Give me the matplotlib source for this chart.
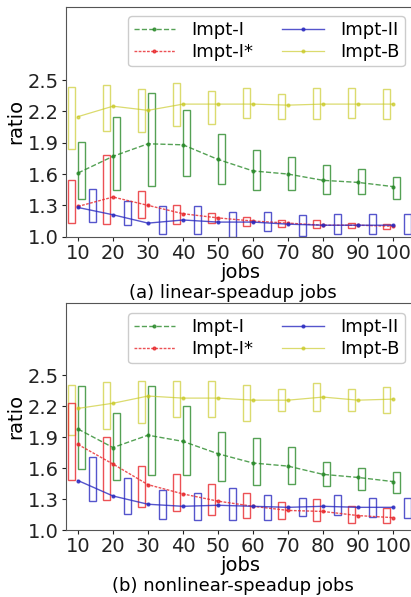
import matplotlib
matplotlib.use("Agg")
import matplotlib.pyplot as plt
import numpy as np

jobs = [10, 20, 30, 40, 50, 60, 70, 80, 90, 100]
yticks = [1.0, 1.3, 1.6, 1.9, 2.2, 2.5]
names = ["Impt-I", "Impt-I*", "Impt-II", "Impt-B"]

# ---- (a) linear-speedup jobs ----
a_I_mean = [1.61, 1.77, 1.89, 1.88, 1.74, 1.63, 1.60, 1.54, 1.52, 1.48]
a_I_q1 = [1.36, 1.45, 1.49, 1.58, 1.50, 1.45, 1.45, 1.41, 1.41, 1.36]
a_I_q3 = [1.91, 2.15, 2.38, 2.21, 1.98, 1.83, 1.76, 1.69, 1.65, 1.57]

a_Is_mean = [1.29, 1.38, 1.30, 1.22, 1.18, 1.15, 1.13, 1.11, 1.11, 1.10]
a_Is_q1 = [1.13, 1.12, 1.18, 1.12, 1.13, 1.10, 1.09, 1.08, 1.08, 1.07]
a_Is_q3 = [1.54, 1.78, 1.44, 1.30, 1.23, 1.19, 1.16, 1.16, 1.13, 1.12]

a_II_mean = [1.28, 1.21, 1.13, 1.16, 1.14, 1.14, 1.12, 1.11, 1.11, 1.11]
a_II_q1 = [1.14, 1.11, 1.03, 1.03, 1.00, 1.05, 1.01, 1.03, 1.03, 1.03]
a_II_q3 = [1.46, 1.34, 1.29, 1.29, 1.24, 1.24, 1.21, 1.22, 1.22, 1.22]

a_B_mean = [2.15, 2.25, 2.21, 2.27, 2.27, 2.27, 2.26, 2.27, 2.27, 2.27]
a_B_q1 = [1.84, 2.01, 2.00, 2.06, 2.08, 2.14, 2.13, 2.13, 2.14, 2.13]
a_B_q3 = [2.43, 2.45, 2.41, 2.47, 2.40, 2.42, 2.37, 2.42, 2.42, 2.41]

# ---- (b) nonlinear-speedup jobs ----
b_I_mean = [1.98, 1.80, 1.92, 1.86, 1.74, 1.65, 1.62, 1.54, 1.51, 1.47]
b_I_q1 = [1.59, 1.49, 1.53, 1.53, 1.48, 1.44, 1.45, 1.43, 1.39, 1.36]
b_I_q3 = [2.40, 2.14, 2.40, 2.20, 1.95, 1.89, 1.81, 1.66, 1.60, 1.56]

b_Is_mean = [1.83, 1.64, 1.44, 1.35, 1.28, 1.23, 1.19, 1.18, 1.14, 1.12]
b_Is_q1 = [1.49, 1.29, 1.22, 1.18, 1.15, 1.12, 1.11, 1.09, 1.07, 1.07]
b_Is_q3 = [2.23, 1.90, 1.62, 1.54, 1.45, 1.36, 1.27, 1.30, 1.23, 1.21]

b_II_mean = [1.48, 1.33, 1.25, 1.23, 1.24, 1.23, 1.22, 1.23, 1.22, 1.22]
b_II_q1 = [1.28, 1.16, 1.11, 1.10, 1.10, 1.10, 1.14, 1.15, 1.13, 1.12]
b_II_q3 = [1.71, 1.50, 1.39, 1.36, 1.41, 1.34, 1.31, 1.34, 1.31, 1.31]

b_B_mean = [2.18, 2.23, 2.30, 2.28, 2.28, 2.26, 2.26, 2.29, 2.26, 2.27]
b_B_q1 = [1.92, 1.98, 2.04, 2.10, 2.10, 2.06, 2.15, 2.15, 2.15, 2.14]
b_B_q3 = [2.41, 2.44, 2.45, 2.45, 2.45, 2.41, 2.37, 2.43, 2.37, 2.39]

panels = [
    dict(caption="(a) linear-speadup jobs",
         data=[(a_I_mean, a_I_q1, a_I_q3), (a_Is_mean, a_Is_q1, a_Is_q3),
               (a_II_mean, a_II_q1, a_II_q3), (a_B_mean, a_B_q1, a_B_q3)],
         rect=[66 / 411, 1 - 236.7 / 597, 348 / 411, 229.7 / 597],
         anchor=(0.974, 0.961)),
    dict(caption="(b) nonlinear-speadup jobs",
         data=[(b_I_mean, b_I_q1, b_I_q3), (b_Is_mean, b_Is_q1, b_Is_q3),
               (b_II_mean, b_II_q1, b_II_q3), (b_B_mean, b_B_q1, b_B_q3)],
         rect=[66 / 411, 1 - 530 / 597, 348 / 411, 226.7 / 597],
         anchor=(0.974, 0.957)),
]

colors = ["#2a8a2a", "#e8262a", "#2b2bc0", "#c8c820"]
styles = ["--", (0, (2, 1)), "-", "-"]
offsets = [1, -2, 4, -2]
alphas = [0.8, 0.8, 0.8, 0.65]

fig = plt.figure(figsize=(4.11, 5.97), dpi=100)
x = np.array(jobs)
for p in panels:
    ax = fig.add_axes(p["rect"])
    for k in [3, 1, 0, 2]:
        mean, q1, q3 = p["data"][k]
        q1 = np.array(q1); q3 = np.array(q3)
        ax.bar(x + offsets[k], q3 - q1, bottom=q1, width=2.0, fill=False,
               edgecolor=colors[k], linewidth=1.0, alpha=alphas[k])
    for k in range(4):
        mean = p["data"][k][0]
        ax.plot(x, mean, linestyle=styles[k], color=colors[k], marker=".",
                markersize=4, linewidth=1.0 if k < 3 else 0.9,
                alpha=alphas[k], label=names[k])
    ax.set_xlim(6.57, 106)
    ax.set_ylim(1.0, 3.2)
    ax.set_xticks(jobs)
    ax.set_yticks(yticks)
    ax.set_yticklabels([f"{v:.1f}" for v in yticks])
    ax.tick_params(labelsize=14, length=3, width=0.8, colors="#222222",
                   pad=2)
    for s in ax.spines.values():
        s.set_color("#555555")
        s.set_linewidth(0.8)
    ax.set_ylabel("ratio", fontsize=14, labelpad=2)
    ax.set_xlabel("jobs", fontsize=14, labelpad=0)
    ax.text(0.48, -0.208, p["caption"], transform=ax.transAxes,
            ha="center", va="top", fontsize=13)
    leg = ax.legend(loc="upper right", bbox_to_anchor=p["anchor"],
                    borderaxespad=0, ncol=2, fontsize=13,
                    handlelength=2.3, columnspacing=1.6, handletextpad=0.9,
                    labelspacing=0.2, borderpad=0.3, framealpha=1.0)
    leg.get_frame().set_edgecolor("#cccccc")

fig.savefig("out.png", dpi=100)
